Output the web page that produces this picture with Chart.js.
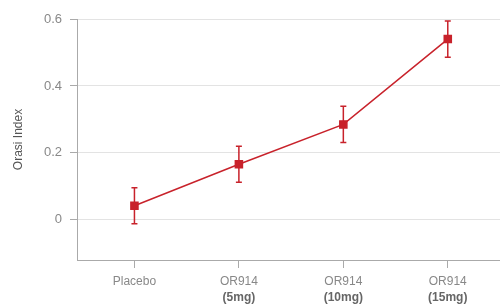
<!DOCTYPE html>
<html>
<head>
<meta charset="utf-8">
<script src="https://cdn.jsdelivr.net/npm/chart.js@4/dist/chart.umd.min.js"></script>
<style>
  html, body { margin: 0; padding: 0; background: #fff; overflow: hidden; }
  #wrap { width: 500px; height: 306px; position: relative; }
</style>
</head>
<body>
<div id="wrap"><canvas id="chart"></canvas></div>
<script>
// Chart data
const groupNames = ['Placebo', 'OR914', 'OR914', 'OR914'];
const doseLabels = ['', '(5mg)', '(10mg)', '(15mg)'];
const orasiIndex = [0.042, 0.166, 0.285, 0.540];
const errorMargin = [0.054, 0.054, 0.054, 0.054];
const yTicks = [0, 0.2, 0.4, 0.6];

const RED = '#c8222b';
const FONT = "'Liberation Sans', Arial, sans-serif";

const points = orasiIndex.map((v, i) => ({ x: i, y: v }));

// draws the vertical error bars with small caps
const errorBarPlugin = {
  id: 'errorBars',
  afterDatasetsDraw(chart) {
    const { ctx, scales: { x, y } } = chart;
    ctx.save();
    ctx.strokeStyle = RED;
    ctx.lineWidth = 1.5;
    orasiIndex.forEach((v, i) => {
      const px = x.getPixelForValue(i);
      const top = y.getPixelForValue(v + errorMargin[i]);
      const bot = y.getPixelForValue(v - errorMargin[i]);
      ctx.beginPath();
      ctx.moveTo(px, top);
      ctx.lineTo(px, bot);
      ctx.moveTo(px - 3, top);
      ctx.lineTo(px + 3, top);
      ctx.moveTo(px - 3, bot);
      ctx.lineTo(px + 3, bot);
      ctx.stroke();
    });
    ctx.restore();
  }
};

// second line of the x labels is bold and darker
const doseLabelPlugin = {
  id: 'doseLabels',
  afterDraw(chart) {
    const { ctx, scales: { x } } = chart;
    ctx.save();
    ctx.font = 'bold 12px ' + FONT;
    ctx.fillStyle = '#666';
    ctx.textAlign = 'center';
    ctx.textBaseline = 'middle';
    doseLabels.forEach((d, i) => {
      if (d) ctx.fillText(d, x.getPixelForValue(i), 298);
    });
    ctx.restore();
  }
};

new Chart(document.getElementById('chart'), {
  type: 'line',
  data: {
    datasets: [{
      data: points,
      borderColor: RED,
      backgroundColor: RED,
      borderWidth: 1.5,
      pointStyle: 'rect',
      pointRadius: 5,
      pointHoverRadius: 5,
      tension: 0,
      clip: false
    }]
  },
  options: {
    responsive: true,
    maintainAspectRatio: false,
    animation: false,
    layout: { autoPadding: false, padding: { top: 19, right: 0, left: 0, bottom: 0 } },
    plugins: { legend: { display: false }, tooltip: { enabled: false } },
    scales: {
      x: {
        type: 'linear',
        min: -0.55,
        max: 3.5,
        afterBuildTicks: axis => { axis.ticks = [0, 1, 2, 3].map(v => ({ value: v })); },
        afterFit: axis => { axis.height = 46; },
        grid: { drawOnChartArea: false, tickLength: 8, tickColor: '#aaa' },
        border: { color: '#aaa', width: 1 },
        ticks: {
          color: '#888',
          font: { family: FONT, size: 12 },
          padding: 6,
          maxRotation: 0,
          callback: v => groupNames[v]
        }
      },
      y: {
        min: -0.12,
        max: 0.6,
        afterBuildTicks: axis => { axis.ticks = yTicks.map(v => ({ value: v })); },
        afterFit: axis => { axis.width = 77; },
        grid: { color: '#e3e3e3', tickLength: 7, tickColor: '#aaa' },
        border: { color: '#aaa', width: 1 },
        ticks: {
          color: '#888',
          font: { family: FONT, size: 13 },
          padding: 8,
          callback: v => v === 0 ? '0' : v.toFixed(1)
        },
        title: {
          display: true,
          text: 'Orasi Index',
          color: '#555',
          font: { family: FONT, size: 12 },
          padding: { top: 11, bottom: 0 }
        }
      }
    }
  },
  plugins: [errorBarPlugin, doseLabelPlugin]
});
</script>
</body>
</html>
